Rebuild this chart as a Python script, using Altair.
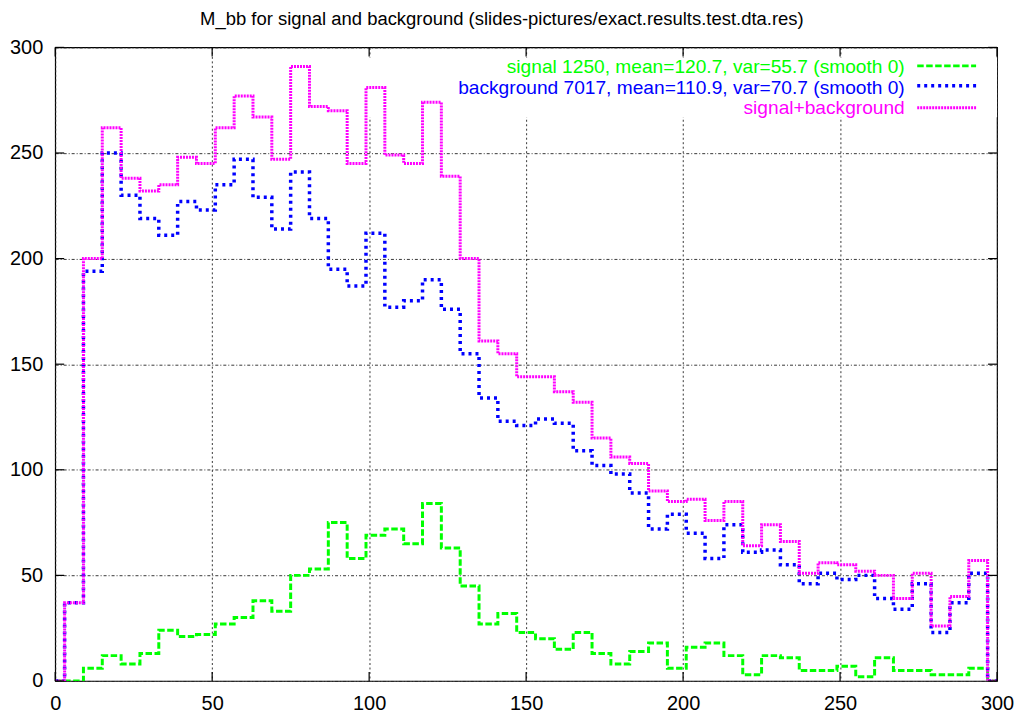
import altair as alt
import pandas as pd

# histogram bin centres (M_bb), bin width 6
bins = list(range(0, 301, 6))

signal = [0, 0, 6, 12, 8, 13, 24, 21, 22, 27,
          30, 38, 33, 50, 53, 75, 58, 69, 72, 65,
          84, 63, 45, 27, 32, 23, 20, 15, 23, 13,
          8, 14, 18, 6, 16, 18, 12, 3, 12, 11,
          5, 5, 7, 2, 11, 5, 5, 3, 3, 6, 0]

background = [0, 37, 194, 250, 230, 219, 211, 227, 223, 235,
              247, 229, 214, 241, 219, 195, 187, 212, 177, 180,
              190, 176, 155, 134, 123, 121, 124, 122, 109, 102,
              98, 89, 72, 79, 70, 58, 74, 61, 62, 55,
              46, 51, 48, 50, 39, 34, 46, 23, 37, 51, 0]

combined = [0, 37, 200, 262, 238, 232, 235, 248, 245, 262,
            277, 267, 247, 291, 272, 270, 245, 281, 249, 245,
            274, 239, 200, 161, 155, 144, 144, 137, 132, 115,
            106, 103, 90, 85, 86, 76, 85, 64, 74, 66,
            51, 56, 55, 52, 50, 39, 51, 26, 40, 57, 0]

tick_values = [0, 50, 100, 150, 200, 250, 300]

title_text = "M_bb for signal and background (slides-pictures/exact.results.test.dta.res)"
legend_labels = [
    "signal 1250, mean=120.7, var=55.7 (smooth 0)",
    "background 7017, mean=110.9, var=70.7 (smooth 0)",
    "signal+background",
]
colors = ["#00ff00", "#0000ff", "#ff00ff"]
dashes = [[6.5, 2.5], [3, 4], [2, 1]]
widths = [3, 3.5, 3]

FONT = "Liberation Sans"
W, H = 944, 635

df = pd.DataFrame({"m": bins, "signal": signal, "background": background, "combined": combined})
ticks_df = pd.DataFrame({"v": tick_values})

xs = alt.Scale(domain=[0, 300], nice=False, zero=False)
ys = alt.Scale(domain=[0, 300], nice=False, zero=False)

xaxis = alt.Axis(values=tick_values, title=None, labelFlush=False, labelOverlap=False,
                 labelPadding=12.5, gridDash=[2, 2.5], tickSize=0, domain=False)
yaxis = alt.Axis(values=tick_values, title=None, labelOverlap=False, labelFlush=False,
                 labelPadding=12.5, gridDash=[3, 2, 1, 2], tickSize=0, domain=False)

empty = alt.Data(values=[{}])

# white box of the key, hiding the grid behind it
keybox = alt.Chart(empty).mark_rect(color="white").encode(
    x=alt.value(245), x2=alt.value(W), y=alt.value(10), y2=alt.value(70)
)

layers = [keybox]

fields = ["signal", "background", "combined"]
for f, c, d, w in zip(fields, colors, dashes, widths):
    layers.append(
        alt.Chart(df).mark_line(interpolate="step", clip=True, color=c,
                                strokeDash=d, strokeWidth=w).encode(
            x=alt.X("m:Q", scale=xs, axis=xaxis),
            y=alt.Y(f"{f}:Q", scale=ys, axis=yaxis),
        )
    )

# inward ticks on all four sides
tick_len = 9
layers.append(alt.Chart(ticks_df).mark_rule(color="black", strokeWidth=1.2).encode(
    x=alt.X("v:Q", scale=xs, axis=xaxis), y=alt.value(H), y2=alt.value(H - tick_len)))
layers.append(alt.Chart(ticks_df).mark_rule(color="black", strokeWidth=1.2).encode(
    x=alt.X("v:Q", scale=xs, axis=xaxis), y=alt.value(0), y2=alt.value(tick_len)))
layers.append(alt.Chart(ticks_df).mark_rule(color="black", strokeWidth=1.2).encode(
    y=alt.Y("v:Q", scale=ys, axis=yaxis), x=alt.value(0), x2=alt.value(tick_len)))
layers.append(alt.Chart(ticks_df).mark_rule(color="black", strokeWidth=1.2).encode(
    y=alt.Y("v:Q", scale=ys, axis=yaxis), x=alt.value(W), x2=alt.value(W - tick_len)))

# key
text_y = [20, 40.5, 61]
line_y = [18.5, 38.5, 60.5]
for lab, c, d, w, ty, ly in zip(legend_labels, colors, dashes, widths, text_y, line_y):
    layers.append(alt.Chart(empty).mark_text(font=FONT, fontSize=19.2, align="right",
                                             baseline="middle", color=c).encode(
        x=alt.value(851.5), y=alt.value(ty), text=alt.value(lab)))
    layers.append(alt.Chart(empty).mark_rule(color=c, strokeDash=d, strokeWidth=w).encode(
        x=alt.value(864), x2=alt.value(923), y=alt.value(ly)))

# title
layers.append(alt.Chart(empty).mark_text(font=FONT, fontSize=18.5, align="center",
                                         baseline="alphabetic", color="black").encode(
    x=alt.value(447.7), y=alt.value(-22.5), text=alt.value(title_text)))

chart = alt.layer(*layers).properties(
    width=W, height=H, autosize="none",
    padding={"left": 47.3, "top": 38.7, "right": 18, "bottom": 36},
    background="white",
).configure_view(
    stroke="black", strokeWidth=1.2
).configure_axis(
    labelFont=FONT, labelFontSize=20, labelColor="black",
    grid=True, gridColor="#222222", gridWidth=1, gridOpacity=0.9,
)

chart.save("out.html", embed_options={"renderer": "svg", "actions": False})
